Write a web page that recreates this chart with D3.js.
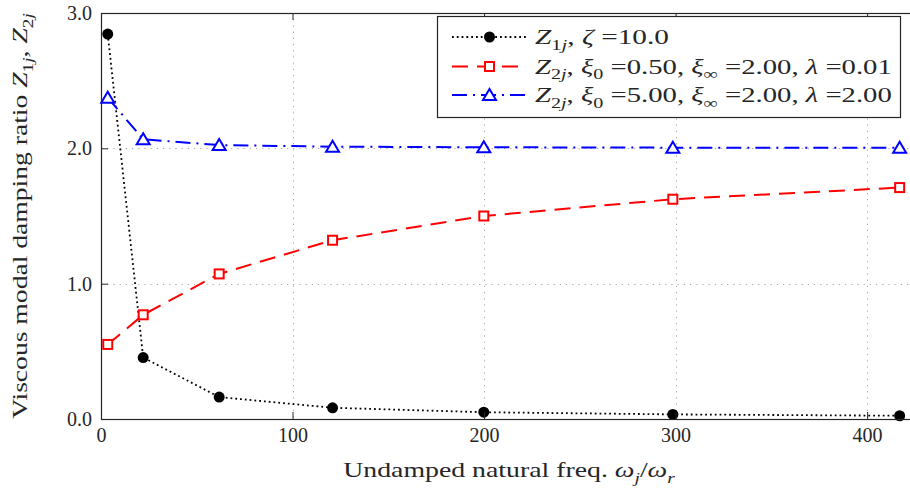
<!DOCTYPE html>
<html>
<head>
<meta charset="utf-8">
<script src="https://cdn.jsdelivr.net/npm/d3@7"></script>
<style>
  body { margin: 0; background: #fff; }
  svg text { font-family: "Liberation Serif", "DejaVu Serif", serif; fill: #262626; }
</style>
</head>
<body>
<svg id="chart" width="910" height="495"></svg>
<script>
// Undamped natural frequencies (cantilever modes) and modal damping ratios
const freqs = [3.516, 22.03, 61.70, 120.90, 199.86, 298.56, 416.99];
const z1 = [2.844, 0.454, 0.162, 0.083, 0.050, 0.034, 0.024];
const z2a = [0.551, 0.770, 1.072, 1.321, 1.500, 1.624, 1.710];
const z2b = [2.374, 2.067, 2.024, 2.012, 2.008, 2.005, 2.004];
const xTicks = [0, 100, 200, 300, 400];
const yTicks = [0, 1, 2, 3];

const FONT = "'Liberation Serif', 'DejaVu Serif', serif";
const svg = d3.select("#chart");
const plot = { left: 101, top: 13, bottom: 419, right: 915 };

const x = d3.scaleLinear().domain([0, 425]).range([plot.left, plot.right]);
const y = d3.scaleLinear().domain([0, 3]).range([plot.bottom, plot.top]);

// grid
const grid = svg.append("g").attr("stroke", "#a6a6a6").attr("stroke-width", 1)
  .attr("stroke-dasharray", "1.2,5");
grid.selectAll(".gx").data(xTicks.filter(d => d > 0)).join("line")
  .attr("x1", d => Math.round(x(d)) + 0.5).attr("x2", d => Math.round(x(d)) + 0.5)
  .attr("y1", plot.top).attr("y2", plot.bottom);
grid.selectAll(".gy").data(yTicks.filter(d => d > 0 && d < 3)).join("line")
  .attr("y1", d => Math.round(y(d)) + 0.5).attr("y2", d => Math.round(y(d)) + 0.5)
  .attr("x1", plot.left).attr("x2", plot.right);

// series definitions
const series = [
  { values: z1, color: "#000", width: 1.8, dash: "1.8,3", marker: "circle" },
  { values: z2a, color: "#ff0000", width: 2, dash: "16,9", marker: "square" },
  { values: z2b, color: "#0000ff", width: 2, dash: "15,6,2,6", marker: "triangle" }
];

const line = d3.line().x(d => x(d[0])).y(d => y(d[1]));

function drawMarker(g, type, color) {
  if (type === "circle") {
    g.append("circle").attr("r", 5.5).attr("fill", color);
  } else if (type === "square") {
    g.append("rect").attr("x", -4.5).attr("y", -4.5).attr("width", 9).attr("height", 9)
      .attr("fill", "#fff").attr("stroke", color).attr("stroke-width", 2);
  } else {
    g.append("path").attr("d", "M0,-6L6.5,5L-6.5,5Z")
      .attr("fill", "#fff").attr("stroke", color).attr("stroke-width", 2)
      .attr("stroke-linejoin", "miter");
  }
}

const lines = svg.append("g");
series.forEach(s => {
  const pts = freqs.map((f, i) => [f, s.values[i]]);
  lines.append("path").attr("d", line(pts)).attr("fill", "none")
    .attr("stroke", s.color).attr("stroke-width", s.width).attr("stroke-dasharray", s.dash);
});
series.forEach(s => {
  freqs.forEach((f, i) => {
    const g = lines.append("g").attr("transform", `translate(${x(f)},${y(s.values[i])})`);
    drawMarker(g, s.marker, s.color);
  });
});

// axes box and inward ticks
const axisColor = "#262626";
const bottomAxis = svg.append("g").attr("transform", `translate(0,${plot.bottom})`)
  .call(d3.axisBottom(x).tickValues(xTicks).tickFormat(d3.format("d"))
    .tickSizeInner(-7).tickSizeOuter(0).tickPadding(9));
const leftAxis = svg.append("g").attr("transform", `translate(${plot.left},0)`)
  .call(d3.axisLeft(y).tickValues(yTicks).tickFormat(d3.format(".1f"))
    .tickSizeInner(-7).tickSizeOuter(0).tickPadding(9));
const topAxis = svg.append("g").attr("transform", `translate(0,${plot.top})`)
  .call(d3.axisTop(x).tickValues(xTicks).tickFormat("")
    .tickSizeInner(-7).tickSizeOuter(0));
[bottomAxis, leftAxis, topAxis].forEach(a => {
  a.attr("font-family", FONT).attr("font-size", 20);
  a.select(".domain").remove();
  a.selectAll("line").attr("stroke", axisColor);
  a.selectAll("text").attr("font-size", 20).attr("fill", axisColor).style("font-family", FONT);
});
svg.append("rect").attr("x", plot.left + 0.5).attr("y", plot.top + 0.5)
  .attr("width", plot.right - plot.left).attr("height", plot.bottom - plot.top)
  .attr("fill", "none").attr("stroke", axisColor).attr("stroke-width", 1.2);

// rich text helper: parts are [string, kind] with kind r | i | sub | subi
function rich(textSel, parts, size) {
  let shift = 0;
  const subSize = size * 0.7, down = size * 0.28;
  textSel.style("font-family", FONT).attr("font-size", size);
  parts.forEach(([str, kind]) => {
    const isSub = kind === "sub" || kind === "subi";
    const target = isSub ? down : 0;
    const t = textSel.append("tspan").text(str)
      .attr("font-size", isSub ? subSize : size)
      .attr("font-style", (kind === "i" || kind === "subi") ? "italic" : "normal");
    if (target !== shift) { t.attr("dy", target - shift); shift = target; }
  });
  return textSel;
}

// place a text at an anchor, stretched horizontally to a given run width
function placeFitted(textSel, baseTransform, width) {
  const w = textSel.node().getComputedTextLength();
  const k = w > 0 ? width / w : 1;
  textSel.attr("transform", `${baseTransform} scale(${k},1)`);
}

// axis titles
const xLabel = svg.append("text").attr("text-anchor", "middle");
rich(xLabel, [["Undamped natural freq. ", "r"], ["ω", "i"], ["j", "subi"], ["/", "r"], ["ω", "i"], ["r", "subi"]], 21);
placeFitted(xLabel, "translate(509,477)", 332);

const yLabel = svg.append("text").attr("text-anchor", "middle");
rich(yLabel, [["Viscous modal damping ratio ", "r"], ["Z", "i"], ["1", "sub"], ["j", "subi"], [",  ", "r"],
  ["Z", "i"], ["2", "sub"], ["j", "subi"]], 21);
placeFitted(yLabel, `translate(27,${(plot.top + plot.bottom) / 2}) rotate(-90)`, 406);

// legend
const legendRows = [
  [["Z", "i"], ["1", "sub"], ["j", "subi"], [",  ", "r"], ["ζ", "i"], [" =10.0", "r"]],
  [["Z", "i"], ["2", "sub"], ["j", "subi"], [",  ", "r"], ["ξ", "i"], ["0", "sub"], [" =0.50, ", "r"],
   ["ξ", "i"], ["∞", "sub"], [" =2.00, ", "r"], ["λ", "i"], [" =0.01", "r"]],
  [["Z", "i"], ["2", "sub"], ["j", "subi"], [",  ", "r"], ["ξ", "i"], ["0", "sub"], [" =5.00, ", "r"],
   ["ξ", "i"], ["∞", "sub"], [" =2.00, ", "r"], ["λ", "i"], [" =2.00", "r"]]
];
const legendWidths = [134, 357, 357];
const legend = svg.append("g");
legend.append("rect").attr("x", 437.5).attr("y", 16.5).attr("width", 463).attr("height", 101)
  .attr("fill", "#fff").attr("stroke", axisColor).attr("stroke-width", 1.2);
const rowY = [37, 66.5, 95];
series.forEach((s, i) => {
  const cy = rowY[i];
  legend.append("line").attr("x1", 452).attr("x2", 527).attr("y1", cy).attr("y2", cy)
    .attr("stroke", s.color).attr("stroke-width", s.width).attr("stroke-dasharray", s.dash);
  const g = legend.append("g").attr("transform", `translate(489.5,${cy})`);
  drawMarker(g, s.marker, s.color);
  const t = legend.append("text");
  rich(t, legendRows[i], 21);
  placeFitted(t, `translate(535,${cy + 7})`, legendWidths[i]);
});
</script>
</body>
</html>
